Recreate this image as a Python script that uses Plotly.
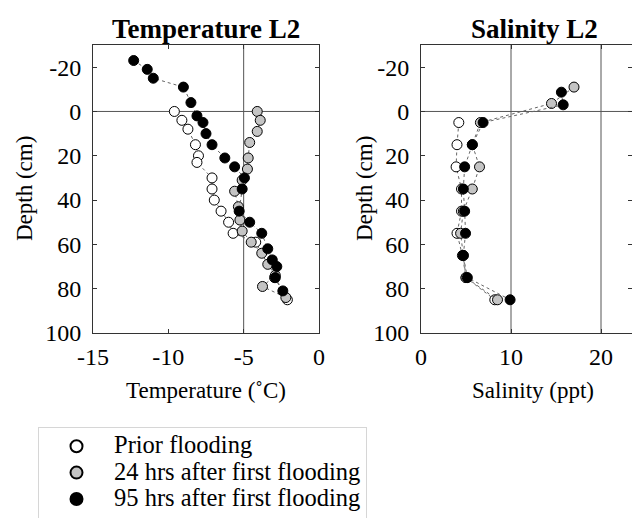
import plotly.graph_objects as go

# ---- Temperature L2 ----
temp_prior_T = [-9.6, -9.1, -8.7, -8.2, -8.0, -8.1, -7.1, -7.1, -6.95, -6.5, -6.0, -5.7, -4.2, -2.95, -2.1]
temp_prior_D = [0, 4, 8, 15, 20, 23, 30, 35, 40, 45, 50, 55, 59, 75, 85]
temp_24_T = [-4.1, -3.9, -4.1, -4.6, -4.7, -4.75, -5.1, -5.6, -5.35, -5.25, -5.1, -4.5, -3.8, -3.4, -2.9, -3.75, -2.2]
temp_24_D = [0, 4, 9, 14, 21, 26, 31, 36, 43, 49, 54, 59, 64, 69, 74, 79, 84]
temp_95_T = [-12.3, -11.4, -11.0, -9.0, -8.5, -8.1, -7.7, -7.5, -7.1, -6.25, -5.6, -4.95, -5.1, -5.3, -4.6, -3.8, -3.4, -3.1, -2.8, -2.9, -2.4]
temp_95_D = [-23, -19, -15, -11, -4, 2, 5, 10, 15, 21, 25, 30, 35, 45, 50, 55, 62, 67, 70, 75, 81]

# ---- Salinity L2 ----
sal_prior_S = [4.2, 4.0, 3.9, 4.5, 4.5, 4.0, 4.6, 5.0, 8.2]
sal_prior_D = [5, 15, 25, 35, 45, 55, 65, 75, 85]
sal_24_S = [17.0, 14.5, 6.6, 5.7, 6.5, 5.7, 4.7, 4.4, 4.7, 5.0, 8.5]
sal_24_D = [-11, -3.6, 5, 15, 25, 35, 45, 55, 65, 75, 85]
sal_95_S = [15.6, 15.8, 6.9, 5.7, 4.85, 4.7, 4.85, 4.95, 4.7, 5.15, 9.9]
sal_95_D = [-8.7, -3, 5, 15, 25, 35, 45, 55, 65, 75, 85]

series_names = ["Prior flooding", "24 hrs after first flooding", "95 hrs after first flooding"]
fills = ["white", "#c4c4c4", "black"]

temp_x_ticks = [-15, -10, -5, 0]
sal_x_ticks = [0, 10, 20]
depth_ticks = [-20, 0, 20, 40, 60, 80, 100]

FONT = "Liberation Serif"
W, H = 632, 518

fig = go.Figure()

temp_sets = [(temp_prior_T, temp_prior_D), (temp_24_T, temp_24_D), (temp_95_T, temp_95_D)]
sal_sets = [(sal_prior_S, sal_prior_D), (sal_24_S, sal_24_D), (sal_95_S, sal_95_D)]

for i, (x, y) in enumerate(temp_sets):
    fig.add_trace(go.Scatter(
        x=x, y=y, mode="lines+markers", name=series_names[i],
        line=dict(color="#666666", width=1, dash="dot"),
        marker=dict(size=10, color=fills[i], line=dict(color="black", width=1)),
        xaxis="x", yaxis="y", showlegend=False))
for i, (x, y) in enumerate(sal_sets):
    fig.add_trace(go.Scatter(
        x=x, y=y, mode="lines+markers", name=series_names[i],
        line=dict(color="#666666", width=1, dash="dot"),
        marker=dict(size=10, color=fills[i], line=dict(color="black", width=1)),
        xaxis="x2", yaxis="y2", showlegend=False))
# legend entries (markers only)
for i in range(3):
    fig.add_trace(go.Scatter(
        x=[None], y=[None], mode="markers",
        name='<span style="font-size:24.5px">' + series_names[i] + '</span>',
        marker=dict(size=10, color=fills[i], line=dict(color="black", width=1)),
        xaxis="x", yaxis="y", showlegend=True))

x1d = [93 / W, 319 / W]
x2d = [421 / W, 1.0]
yd = [(H - 333) / H, (H - 45) / H]
sal_max = (632 - 421) / 9.0

axis_common = dict(showline=True, linecolor="#333333", linewidth=1, mirror="ticks",
                   ticks="inside", ticklen=4, tickcolor="#333333", showgrid=False,
                   zeroline=False, tickfont=dict(family=FONT, size=24, color="black"))

fig.update_layout(
    width=W, height=H, margin=dict(l=0, r=0, t=0, b=0, autoexpand=False),
    plot_bgcolor="white", paper_bgcolor="white",
    font=dict(family=FONT, color="black"),
    xaxis=dict(domain=x1d, range=[-15, 0], anchor="y", ticklabelstandoff=2,
               tickvals=temp_x_ticks, ticktext=[str(v) for v in temp_x_ticks], **axis_common),
    yaxis=dict(domain=yd, range=[100, -30], anchor="x", ticklabelstandoff=6,
               tickvals=depth_ticks, ticktext=[str(v) for v in depth_ticks], **axis_common),
    xaxis2=dict(domain=x2d, range=[0, sal_max], anchor="y2", ticklabelstandoff=2,
                tickvals=sal_x_ticks, ticktext=[str(v) for v in sal_x_ticks], **axis_common),
    yaxis2=dict(domain=yd, range=[100, -30], anchor="x2", ticklabelstandoff=6,
                tickvals=depth_ticks, ticktext=[str(v) for v in depth_ticks], **axis_common),
    legend=dict(x=38 / W, y=(H - 427) / H, xanchor="left", yanchor="top",
                bordercolor="#d6d6d6", borderwidth=1, bgcolor="white",
                font=dict(family=FONT, size=18, color="black"),
                itemwidth=65, itemsizing="constant"),
    showlegend=True,
)

ref_line = dict(color="#555555", width=1)
fig.add_shape(type="line", xref="x", yref="y", x0=-15, x1=0, y0=0, y1=0, line=ref_line, layer="below")
fig.add_shape(type="line", xref="x", yref="y", x0=-5, x1=-5, y0=-30, y1=100, line=ref_line, layer="below")
fig.add_shape(type="line", xref="x2", yref="y2", x0=0, x1=sal_max, y0=0, y1=0, line=ref_line, layer="below")
for v in [10, 20]:
    fig.add_shape(type="line", xref="x2", yref="y2", x0=v, x1=v, y0=-30, y1=100, line=ref_line, layer="below")

ann_font = dict(family=FONT, size=23, color="black")
title_font = dict(family=FONT, size=27, color="black")


def label(text, xpx, ypx, font, angle=0):
    fig.add_annotation(text=text, x=xpx / W, y=(H - ypx) / H, xref="paper", yref="paper",
                       xanchor="center", yanchor="middle", showarrow=False,
                       textangle=angle, font=font)


label("<b>Temperature L2</b>", 206, 29, title_font)
label("<b>Salinity L2</b>", 534, 29, title_font)
label("Temperature (˚C)", 206, 391, ann_font)
label("Salinity (ppt)", 533, 391, ann_font)
label("Depth (cm)", 24, 189, ann_font, -90)
label("Depth (cm)", 364, 189, ann_font, -90)

fig.write_html("out.html")
